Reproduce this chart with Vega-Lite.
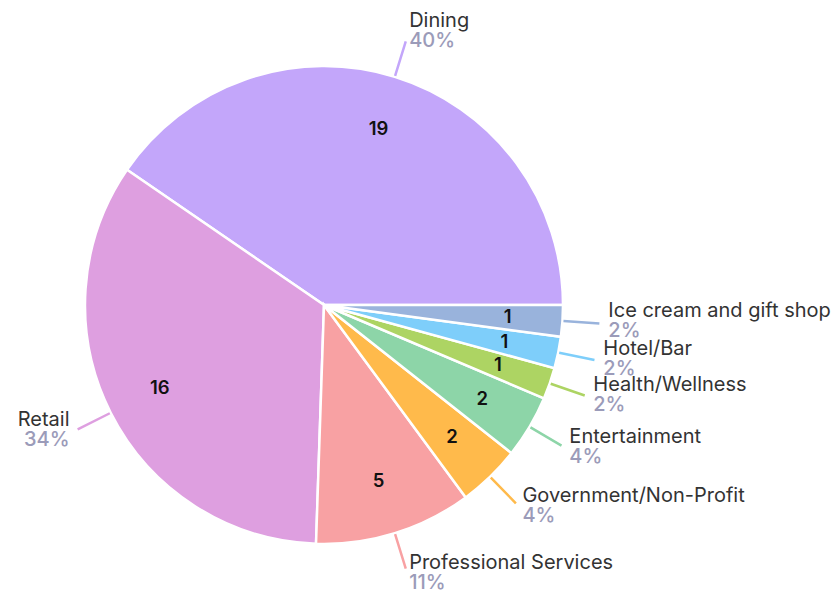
{
  "$schema": "https://vega.github.io/schema/vega-lite/v6.json",
  "width": 600,
  "height": 562,
  "autosize": {"type": "none"},
  "padding": {"left": 24, "top": 24, "right": 215, "bottom": 7},
  "background": "white",
  "config": {"view": {"stroke": null}},
  "data": {
    "values": [
      {"category": "Dining", "count": 19, "share": "40%"},
      {"category": "Retail", "count": 16, "share": "34%"},
      {"category": "Professional Services", "count": 5, "share": "11%"},
      {"category": "Government/Non-Profit", "count": 2, "share": "4%"},
      {"category": "Entertainment", "count": 2, "share": "4%"},
      {"category": "Health/Wellness", "count": 1, "share": "2%"},
      {"category": "Hotel/Bar", "count": 1, "share": "2%"},
      {"category": "Ice cream and gift shop", "count": 1, "share": "2%"}
    ]
  },
  "encoding": {
    "theta": {"field": "count", "type": "quantitative", "stack": true, "scale": {"range": [1.5708, -4.7124]}},
    "order": {"field": "count", "type": "quantitative", "sort": "descending"},
    "color": {
      "field": "category",
      "type": "nominal",
      "scale": {
        "domain": ["Dining", "Retail", "Professional Services", "Government/Non-Profit", "Entertainment", "Health/Wellness", "Hotel/Bar", "Ice cream and gift shop"],
        "range": ["#C3A6FA", "#DE9FE0", "#F8A1A3", "#FFBA4B", "#8DD5A8", "#ADD463", "#7ECEFA", "#99B3DC"]
      },
      "legend": null
    }
  },
  "layer": [
    {"mark": {"type": "arc", "radius": 239, "stroke": "white", "strokeWidth": 2.5}},
    {"mark": {"type": "arc", "radius": 240, "radius2": 276, "padAngle": 3, "filled": false, "strokeWidth": 2.5}},
    {
      "mark": {"type": "text", "radius": 184, "font": "Inter", "fontSize": 18.5, "fontWeight": 600, "align": "center", "baseline": "middle"},
      "encoding": {"text": {"field": "count", "type": "quantitative"}, "color": {"value": "#111111"}}
    },
    {
      "mark": {"type": "text", "radius": 284, "font": "Inter", "fontSize": 20, "align": "left", "baseline": "alphabetic", "dx": 1, "dy": -7},
      "encoding": {
        "text": {"condition": {"test": "datum.category !== 'Retail'", "field": "category", "type": "nominal"}, "value": ""},
        "color": {"value": "#333333"}
      }
    },
    {
      "mark": {"type": "text", "radius": 284, "font": "Inter", "fontSize": 20, "fontWeight": 500, "align": "left", "baseline": "alphabetic", "dx": 1, "dy": 13},
      "encoding": {
        "text": {"condition": {"test": "datum.category !== 'Retail'", "field": "share", "type": "nominal"}, "value": ""},
        "color": {"value": "#9b9bb9"}
      }
    },
    {
      "mark": {"type": "text", "radius": 284, "font": "Inter", "fontSize": 20, "align": "right", "baseline": "alphabetic", "dx": -1, "dy": -7},
      "encoding": {
        "text": {"condition": {"test": "datum.category === 'Retail'", "field": "category", "type": "nominal"}, "value": ""},
        "color": {"value": "#333333"}
      }
    },
    {
      "mark": {"type": "text", "radius": 284, "font": "Inter", "fontSize": 20, "fontWeight": 500, "align": "right", "baseline": "alphabetic", "dx": -1, "dy": 13},
      "encoding": {
        "text": {"condition": {"test": "datum.category === 'Retail'", "field": "share", "type": "nominal"}, "value": ""},
        "color": {"value": "#9b9bb9"}
      }
    }
  ]
}
